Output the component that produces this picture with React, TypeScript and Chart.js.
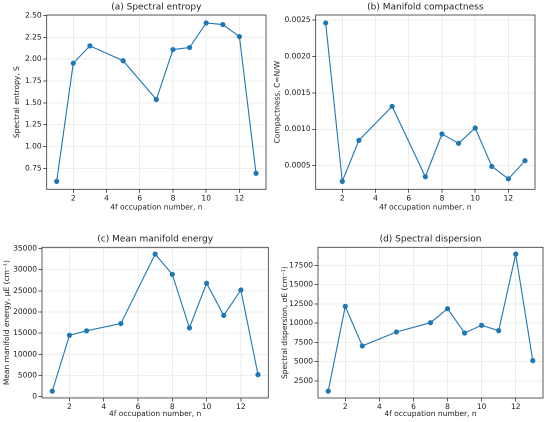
import React, { useEffect, useRef } from "react";
import { Chart, registerables } from "chart.js";

Chart.register(...registerables);

// occupation numbers n (4 and 6 are missing in the source)
const occupation = [1, 2, 3, 5, 7, 8, 9, 10, 11, 12, 13];
const spectralEntropy = [0.601, 1.955, 2.153, 1.983, 1.539, 2.111, 2.134, 2.416, 2.397, 2.26, 0.693];
const compactness = [0.00246, 0.000285, 0.000848, 0.001315, 0.000349, 0.000935, 0.000807, 0.001018, 0.00049, 0.00032, 0.000569];
const meanEnergy = [1300, 14500, 15560, 17270, 33670, 28900, 16250, 26800, 19200, 25200, 5200];
const dispersion = [1160, 12180, 7040, 8850, 10060, 11880, 8720, 9720, 9030, 18970, 5130];

const xTicks = [2, 4, 6, 8, 10, 12];
const entropyTicks = [0.75, 1.0, 1.25, 1.5, 1.75, 2.0, 2.25, 2.5];
const compactTicks = [0.0005, 0.001, 0.0015, 0.002, 0.0025];
const energyTicks = [0, 5000, 10000, 15000, 20000, 25000, 30000, 35000];
const dispersionTicks = [2500, 5000, 7500, 10000, 12500, 15000, 17500];

const BLUE = "#1f77b4";
const TEXT = "#222";
const FONT = "'DejaVu Sans', sans-serif";

type Panel = {
  title: string;
  yLabel: string;
  values: number[];
  yTicks: number[];
  digits: number;
  box: { left: number; top: number; width: number; height: number };
  area: { l: number; r: number; t: number; b: number };
  titleTop: number;
  yTitlePad: number;
  xTitlePad: number;
};

const panels: Panel[] = [
  {
    title: "(a) Spectral entropy",
    yLabel: "Spectral entropy, S",
    values: spectralEntropy,
    yTicks: entropyTicks,
    digits: 2,
    box: { left: 0, top: 0, width: 275, height: 212 },
    area: { l: 46.7, r: 266, t: 15, b: 189.3 },
    titleTop: 1.9,
    yTitlePad: 12.5,
    xTitlePad: 0,
  },
  {
    title: "(b) Manifold compactness",
    yLabel: "Compactness, C=N/W",
    values: compactness,
    yTicks: compactTicks,
    digits: 4,
    box: { left: 268, top: 0, width: 282, height: 212 },
    area: { l: 47.7, r: 267, t: 15, b: 189.3 },
    titleTop: 1.9,
    yTitlePad: 5,
    xTitlePad: 0,
  },
  {
    title: "(c) Mean manifold energy",
    yLabel: "Mean manifold energy, \u03bcE (cm\u207b\u00b9)",
    values: meanEnergy,
    yTicks: energyTicks,
    digits: 0,
    box: { left: 0, top: 210, width: 275, height: 212 },
    area: { l: 42, r: 268.3, t: 37.3, b: 188 },
    titleTop: 23.9,
    yTitlePad: 2.5,
    xTitlePad: 3.5,
  },
  {
    title: "(d) Spectral dispersion",
    yLabel: "Spectral dispersion, \u03c3E (cm\u207b\u00b9)",
    values: dispersion,
    yTicks: dispersionTicks,
    digits: 0,
    box: { left: 275, top: 210, width: 275, height: 212 },
    area: { l: 43, r: 268, t: 37.3, b: 188 },
    titleTop: 23.9,
    yTitlePad: 5.5,
    xTitlePad: 3.5,
  },
];

const spinePlugin = {
  id: "spines",
  afterDraw(chart: Chart) {
    const { ctx, chartArea } = chart;
    ctx.save();
    ctx.strokeStyle = "#333";
    ctx.lineWidth = 0.8;
    ctx.strokeRect(chartArea.left, chartArea.top, chartArea.right - chartArea.left, chartArea.bottom - chartArea.top);
    ctx.restore();
  },
};

function PanelChart({ p }: { p: Panel }) {
  const canvasRef = useRef<HTMLCanvasElement>(null);

  useEffect(() => {
    if (!canvasRef.current) return;
    const lo = Math.min(...p.values);
    const hi = Math.max(...p.values);
    const margin = (hi - lo) * 0.05;
    const xLo = occupation[0];
    const xHi = occupation[occupation.length - 1];
    const xMargin = (xHi - xLo) * 0.05;

    const chart = new Chart(canvasRef.current, {
      type: "line",
      data: {
        datasets: [
          {
            data: occupation.map((n, i) => ({ x: n, y: p.values[i] })),
            borderColor: BLUE,
            backgroundColor: BLUE,
            borderWidth: 1.1,
            pointRadius: 2.6,
            pointBorderWidth: 0,
            tension: 0,
          },
        ],
      },
      options: {
        animation: false,
        responsive: false,
        devicePixelRatio: 2,
        layout: { padding: { left: 0, right: p.box.width - p.area.r, top: 0, bottom: 0 } },
        plugins: {
          legend: { display: false },
          tooltip: { enabled: false },
          title: {
            display: true,
            text: p.title,
            color: TEXT,
            fullSize: false,
            font: { family: FONT, size: 9, weight: "normal" },
            padding: { top: p.titleTop, bottom: p.area.t - p.titleTop - 10.8 },
          },
        },
        scales: {
          x: {
            type: "linear",
            min: xLo - xMargin,
            max: xHi + xMargin,
            afterBuildTicks: (scale: any) => {
              scale.ticks = xTicks.map((v) => ({ value: v }));
            },
            afterFit: (scale: any) => {
              scale.height = p.box.height - p.area.b;
            },
            grid: { color: "#e8e8e8", lineWidth: 0.8, tickColor: "#333", tickLength: 3.5, tickWidth: 0.8 },
            border: { display: false },
            ticks: {
              color: TEXT,
              padding: 1,
              maxRotation: 0,
              font: { family: FONT, size: 7.5 },
              callback: (v: any) => String(v),
            },
            title: {
              display: true,
              text: "4f occupation number, n",
              color: TEXT,
              font: { family: FONT, size: 7.5 },
              padding: { top: 0, bottom: p.xTitlePad },
            },
          },
          y: {
            type: "linear",
            min: lo - margin,
            max: hi + margin,
            afterBuildTicks: (scale: any) => {
              scale.ticks = p.yTicks.map((v) => ({ value: v }));
            },
            afterFit: (scale: any) => {
              scale.width = p.area.l;
            },
            grid: { color: "#e8e8e8", lineWidth: 0.8, tickColor: "#333", tickLength: 3.5, tickWidth: 0.8 },
            border: { display: false },
            ticks: {
              color: TEXT,
              padding: 1.5,
              font: { family: FONT, size: 7.5 },
              callback: (v: any) => Number(v).toFixed(p.digits),
            },
            title: {
              display: true,
              text: p.yLabel,
              color: TEXT,
              font: { family: FONT, size: 7.5 },
              padding: { top: p.yTitlePad, bottom: 0 },
            },
          },
        },
      },
      plugins: [spinePlugin],
    });

    return () => {
      chart.destroy();
    };
  }, [p]);

  return (
    <div
      style={{
        position: "absolute",
        left: p.box.left,
        top: p.box.top,
        width: p.box.width,
        height: p.box.height,
      }}
    >
      <canvas ref={canvasRef} width={p.box.width} height={p.box.height} style={{ width: p.box.width, height: p.box.height }} />
    </div>
  );
}

export default function App() {
  return (
    <div style={{ position: "fixed", left: 0, top: 0, width: 550, height: 422, background: "#fff" }}>
      {panels.map((p) => (
        <PanelChart key={p.title} p={p} />
      ))}
    </div>
  );
}
